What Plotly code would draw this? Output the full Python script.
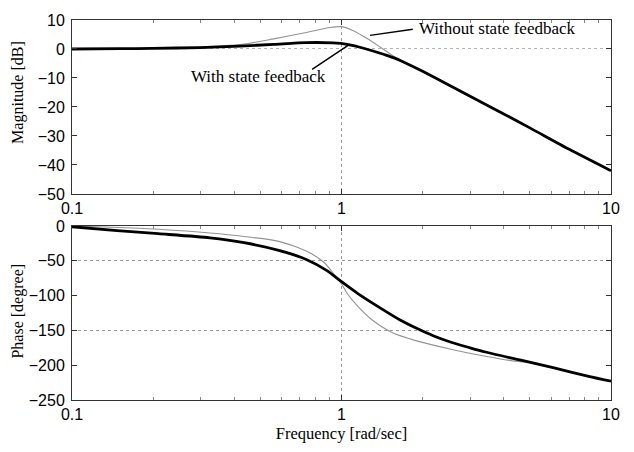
import plotly.graph_objects as go

# ---- data ----
freq_mag_wo = [0.1, 0.15, 0.2, 0.3, 0.42, 0.56, 0.74, 0.906, 1.0, 1.107, 1.24, 1.39, 1.6, 1.8, 2, 2.5, 3, 4, 5, 7, 10]
mag_wo = [0, 0.1, 0.3, 0.7, 1.5, 3.5, 5.7, 7.4, 7.7, 6.3, 3.7, 0.7, -3.1, -5.6, -7.7, -12.4, -16.3, -22.4, -27.2, -34.6, -42]

freq_mag_w = [0.1, 0.15, 0.2, 0.3, 0.42, 0.56, 0.74, 0.93, 1.05, 1.17, 1.3, 1.45, 1.6, 1.8, 2, 2.5, 3, 4, 5, 7, 10]
mag_w = [0, 0.1, 0.2, 0.5, 1.0, 1.6, 2.2, 2.1, 1.6, 0.6, -0.6, -2.0, -3.4, -5.6, -7.7, -12.4, -16.3, -22.4, -27.2, -34.6, -42]

freq_ph_w = [0.1, 0.147, 0.209, 0.325, 0.435, 0.585, 0.74, 0.883, 1.0, 1.15, 1.41, 1.65, 1.9, 2.2, 2.55, 3.0, 3.42, 4.59, 6.15, 8.26, 10]
ph_w = [-1, -6.5, -11, -17, -24, -35, -48, -64, -80, -97, -119, -135, -147, -158, -167, -175, -181, -192.5, -204, -216, -223]

freq_ph_wo = [0.1, 0.15, 0.209, 0.325, 0.435, 0.585, 0.74, 0.86, 0.937, 1.0, 1.05, 1.15, 1.29, 1.54, 1.90, 2.55, 3.42, 4.2, 5.0, 6.15, 8.26, 10]
ph_wo = [0, -2, -4.7, -10, -15, -22, -36, -52, -69, -83, -97, -115.6, -134, -153, -165, -177, -187, -193, -196.5, -204, -216, -223]

x_ticks = [0.1, 1, 10]
x_ticktext = ["0.1", "1", "10"]
mag_ticks = [10, 0, -10, -20, -30, -40, -50]
ph_ticks = [0, -50, -100, -150, -200, -250]
minor_x = [0.2, 0.3, 0.4, 0.5, 0.6, 0.7, 0.8, 0.9, 2, 3, 4, 5, 6, 7, 8, 9]
mag_grid = [0]
ph_grid = [-50, -150]

label_wo = "Without state feedback"
label_w = "With state feedback"
title_mag = "Magnitude [dB]"
title_ph = "Phase [degree]"
title_x = "Frequency [rad/sec]"

# ---- figure ----
GRAY = "#939393"
GRID = "#9a9a9a"
serif = "Liberation Serif, Times New Roman, serif"
sans = "Liberation Sans, Arial, sans-serif"

fig = go.Figure()
thin = dict(color=GRAY, width=1.1, shape="spline", smoothing=0.7)
thick = dict(color="black", width=2.8, shape="spline", smoothing=0.7)
fig.add_trace(go.Scatter(x=freq_mag_wo, y=mag_wo, mode="lines", line=thin, xaxis="x", yaxis="y", showlegend=False))
fig.add_trace(go.Scatter(x=freq_mag_w, y=mag_w, mode="lines", line=thick, xaxis="x", yaxis="y", showlegend=False))
fig.add_trace(go.Scatter(x=freq_ph_wo, y=ph_wo, mode="lines", line=thin, xaxis="x2", yaxis="y2", showlegend=False))
fig.add_trace(go.Scatter(x=freq_ph_w, y=ph_w, mode="lines", line=thick, xaxis="x2", yaxis="y2", showlegend=False))

common_x = dict(type="log", range=[-1, 1], tickvals=x_ticks, ticktext=x_ticktext,
                ticks="inside", ticklen=5, tickcolor="#333", showline=True, linecolor="#333", linewidth=1,
                mirror="ticks", showgrid=True, gridcolor=GRID, griddash="dot", gridwidth=1,
                zeroline=False, tickfont=dict(family=sans, size=16, color="black"),
                minor=dict(tickvals=minor_x, ticks="inside", ticklen=3, tickcolor="#888", showgrid=False))
common_y = dict(ticks="inside", ticklen=5, tickcolor="#333", showline=True, linecolor="#333", linewidth=1,
                mirror="ticks", showgrid=False, zeroline=False, ticklabelstandoff=3,
                tickfont=dict(family=sans, size=16, color="black"))

top_dom = [(403 - 191) / 391, 1]
bot_dom = [0, (403 - 224) / 391]

tfont = dict(family=serif, size=16, color="black")

fig.update_layout(
    width=634, height=452,
    margin=dict(l=72, r=23, t=12, b=49),
    paper_bgcolor="white", plot_bgcolor="white",
    xaxis=dict(**common_x, domain=[0, 1], anchor="y"),
    yaxis=dict(**common_y, domain=top_dom, anchor="x", range=[-50, 10], tickvals=mag_ticks,
               minor=dict(tickvals=mag_grid, showgrid=True, gridcolor="#b5b5b5", griddash="dot", gridwidth=1, ticks="")),
    xaxis2=dict(**common_x, domain=[0, 1], anchor="y2",
                title=dict(text=title_x, font=dict(family=serif, size=16.5, color="black"), standoff=5)),
    yaxis2=dict(**common_y, domain=bot_dom, anchor="x2", range=[-250, 0], tickvals=ph_ticks,
                minor=dict(tickvals=ph_grid, showgrid=True, gridcolor=GRID, griddash="dot", gridwidth=1, ticks="")),
    annotations=[
        dict(x=0.280, y=7.1, xref="x", yref="y", text=label_wo, showarrow=False, xanchor="left", yanchor="middle",
             font=dict(family=serif, size=17, color="black")),
        dict(x=-0.308, y=-9.6, xref="x", yref="y", text=label_w, showarrow=False, xanchor="center", yanchor="middle",
             font=dict(family=serif, size=17, color="black")),
        dict(x=18, y=87, xref="paper", yref="paper", text=title_mag, showarrow=False, textangle=-90,
             font=tfont, xanchor="center", yanchor="middle"),
        dict(x=18, y=312, xref="paper", yref="paper", text=title_ph, showarrow=False, textangle=-90,
             font=tfont, xanchor="center", yanchor="middle"),
    ],
    shapes=[
        dict(type="line", xref="x", yref="y", x0=1.276, y0=4.7, x1=1.84, y1=6.8, line=dict(color="black", width=1.5)),
        dict(type="line", xref="x", yref="y", x0=0.778, y0=-7.0, x1=1.075, y1=1.7, line=dict(color="black", width=1.5)),
    ],
)

# convert pixel positions of the y-axis titles into paper coordinates
W, H = 634, 452
l, r, t, b = 72, 23, 12, 49
for ann in fig.layout.annotations[2:]:
    px, py = ann.x, ann.y
    ann.x = (px - l) / (W - l - r)
    ann.y = 1 - (py - t) / (H - t - b)

fig.write_html("out.html")
